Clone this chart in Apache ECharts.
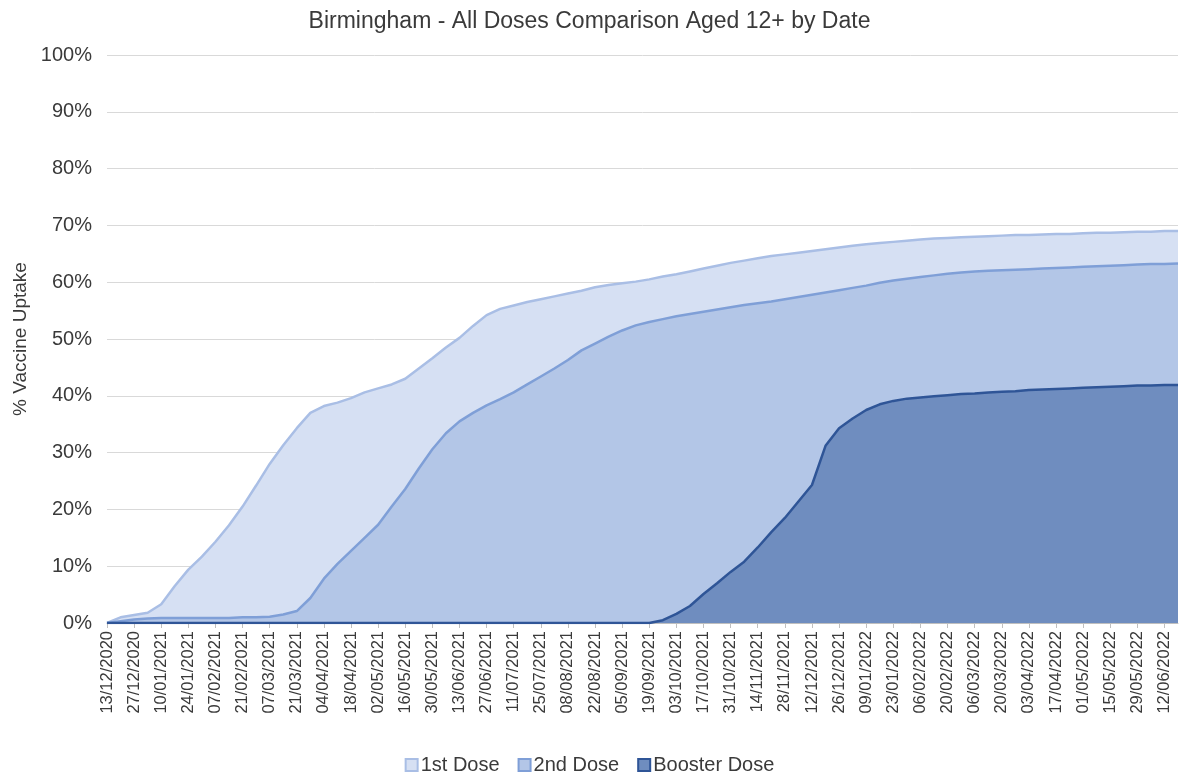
<!DOCTYPE html>
<html>
<head>
<meta charset="utf-8">
<script src="https://cdn.jsdelivr.net/npm/echarts@6/dist/echarts.min.js"></script>
<style>
  html, body { margin: 0; padding: 0; background: #fff; }
  #main { width: 1179px; height: 772px; }
</style>
</head>
<body>
<div id="main"></div>
<script>
// weekly dates, labels shown every 2 weeks
var dates = [
  '13/12/2020', '20/12/2020', '27/12/2020', '03/01/2021', '10/01/2021', '17/01/2021', '24/01/2021', '31/01/2021',
  '07/02/2021', '14/02/2021', '21/02/2021', '28/02/2021', '07/03/2021', '14/03/2021', '21/03/2021', '28/03/2021',
  '04/04/2021', '11/04/2021', '18/04/2021', '25/04/2021', '02/05/2021', '09/05/2021', '16/05/2021', '23/05/2021',
  '30/05/2021', '06/06/2021', '13/06/2021', '20/06/2021', '27/06/2021', '04/07/2021', '11/07/2021', '18/07/2021',
  '25/07/2021', '01/08/2021', '08/08/2021', '15/08/2021', '22/08/2021', '29/08/2021', '05/09/2021', '12/09/2021',
  '19/09/2021', '26/09/2021', '03/10/2021', '10/10/2021', '17/10/2021', '24/10/2021', '31/10/2021', '07/11/2021',
  '14/11/2021', '21/11/2021', '28/11/2021', '05/12/2021', '12/12/2021', '19/12/2021', '26/12/2021', '02/01/2022',
  '09/01/2022', '16/01/2022', '23/01/2022', '30/01/2022', '06/02/2022', '13/02/2022', '20/02/2022', '27/02/2022',
  '06/03/2022', '13/03/2022', '20/03/2022', '27/03/2022', '03/04/2022', '10/04/2022', '17/04/2022', '24/04/2022',
  '01/05/2022', '08/05/2022', '15/05/2022', '22/05/2022', '29/05/2022', '05/06/2022', '12/06/2022', '19/06/2022'
];

var firstDose = [
  0, 1.0, 1.4, 1.8, 3.3, 6.5, 9.4, 11.7, 14.3, 17.2,
  20.5, 24.2, 28.0, 31.3, 34.3, 37.0, 38.2, 38.8, 39.6, 40.6,
  41.3, 42.0, 43.0, 44.8, 46.6, 48.5, 50.2, 52.3, 54.2, 55.3,
  55.9, 56.5, 57.0, 57.5, 58.0, 58.5, 59.1, 59.5, 59.8, 60.1,
  60.5, 61.0, 61.4, 61.9, 62.4, 62.9, 63.4, 63.8, 64.2, 64.6,
  64.9, 65.2, 65.5, 65.8, 66.1, 66.4, 66.7, 66.9, 67.1, 67.3,
  67.5, 67.7, 67.8, 67.9, 68.0, 68.1, 68.2, 68.3, 68.3, 68.4,
  68.5, 68.5, 68.6, 68.7, 68.7, 68.8, 68.9, 68.9, 69.0, 69.0
];

var secondDose = [
  0, 0.3, 0.6, 0.8, 0.9, 0.9, 0.9, 0.9, 0.9, 0.9,
  1.0, 1.0, 1.1, 1.5, 2.1, 4.4, 7.8, 10.4, 12.7, 15.0,
  17.3, 20.5, 23.6, 27.2, 30.6, 33.4, 35.5, 37.0, 38.3, 39.4,
  40.6, 42.0, 43.4, 44.8, 46.3, 48.0, 49.2, 50.4, 51.5, 52.4,
  53.0, 53.5, 54.0, 54.4, 54.8, 55.2, 55.6, 56.0, 56.3, 56.6,
  57.0, 57.4, 57.8, 58.2, 58.6, 59.0, 59.4, 59.9, 60.3, 60.6,
  60.9, 61.2, 61.5, 61.7, 61.9, 62.0, 62.1, 62.2, 62.3, 62.4,
  62.5, 62.6, 62.7, 62.8, 62.9, 63.0, 63.1, 63.2, 63.2, 63.3
];

var boosterDose = [
  0, 0, 0, 0, 0, 0, 0, 0, 0, 0,
  0, 0, 0, 0, 0, 0, 0, 0, 0, 0,
  0, 0, 0, 0, 0, 0, 0, 0, 0, 0,
  0, 0, 0, 0, 0, 0, 0, 0, 0, 0,
  0, 0.5, 1.6, 3.0, 5.1, 7.0, 9.0, 10.8, 13.3, 16.0,
  18.5, 21.4, 24.3, 31.2, 34.3, 36.0, 37.5, 38.5, 39.1, 39.5,
  39.7, 39.9, 40.1, 40.3, 40.4, 40.6, 40.7, 40.8, 41.0, 41.1,
  41.2, 41.3, 41.4, 41.5, 41.6, 41.7, 41.8, 41.8, 41.9, 41.9
];

var yTicks = [0, 10, 20, 30, 40, 50, 60, 70, 80, 90, 100];

var chart = echarts.init(document.getElementById('main'));

function areaSeries(name, data, line, fill, width) {
  return {
    name: name,
    type: 'line',
    data: data,
    symbol: 'none',
    smooth: false,
    lineStyle: { color: line, width: width },
    itemStyle: { color: fill, borderColor: line, borderWidth: 1.5 },
    areaStyle: { color: fill, opacity: 1 }
  };
}

chart.setOption({
  animation: false,
  textStyle: { fontFamily: 'Liberation Sans, Arial, sans-serif' },
  title: {
    text: 'Birmingham - All Doses Comparison Aged 12+ by Date',
    left: 'center',
    top: 5,
    textStyle: { fontSize: 23, fontWeight: 'normal', color: '#3a3a3a' }
  },
  legend: {
    top: 750,
    left: 'center',
    itemWidth: 12,
    itemHeight: 12,
    itemGap: 18,
    icon: 'rect',
    textStyle: { fontSize: 20, color: '#3a3a3a', padding: [0, 0, 0, -2] },
    data: ['1st Dose', '2nd Dose', 'Booster Dose']
  },
  grid: { left: 107, right: 1, top: 55, bottom: 149 },
  xAxis: {
    type: 'category',
    data: dates,
    boundaryGap: false,
    axisLine: { lineStyle: { color: '#bfbfbf' } },
    axisTick: { show: true, interval: 1, length: 5, lineStyle: { color: '#bfbfbf' } },
    axisLabel: { interval: 1, rotate: 90, fontSize: 16.5, color: '#3a3a3a', margin: 8 },
    splitLine: { show: false }
  },
  yAxis: {
    type: 'value',
    min: yTicks[0],
    max: yTicks[yTicks.length - 1],
    interval: 10,
    name: '% Vaccine Uptake',
    nameLocation: 'middle',
    nameGap: 72,
    nameTextStyle: { fontSize: 19, color: '#3a3a3a' },
    axisLine: { show: false },
    axisTick: { show: false },
    axisLabel: { formatter: '{value}%', fontSize: 20, color: '#3a3a3a', margin: 15 },
    splitLine: { lineStyle: { color: '#d9d9d9', width: 1 } }
  },
  series: [
    areaSeries('1st Dose', firstDose, '#a9bee5', '#d6e0f3', 2.5),
    areaSeries('2nd Dose', secondDose, '#7f9fd7', '#b3c6e7', 2.5),
    areaSeries('Booster Dose', boosterDose, '#2f5597', '#6f8dbf', 2.5)
  ]
});
</script>
</body>
</html>
